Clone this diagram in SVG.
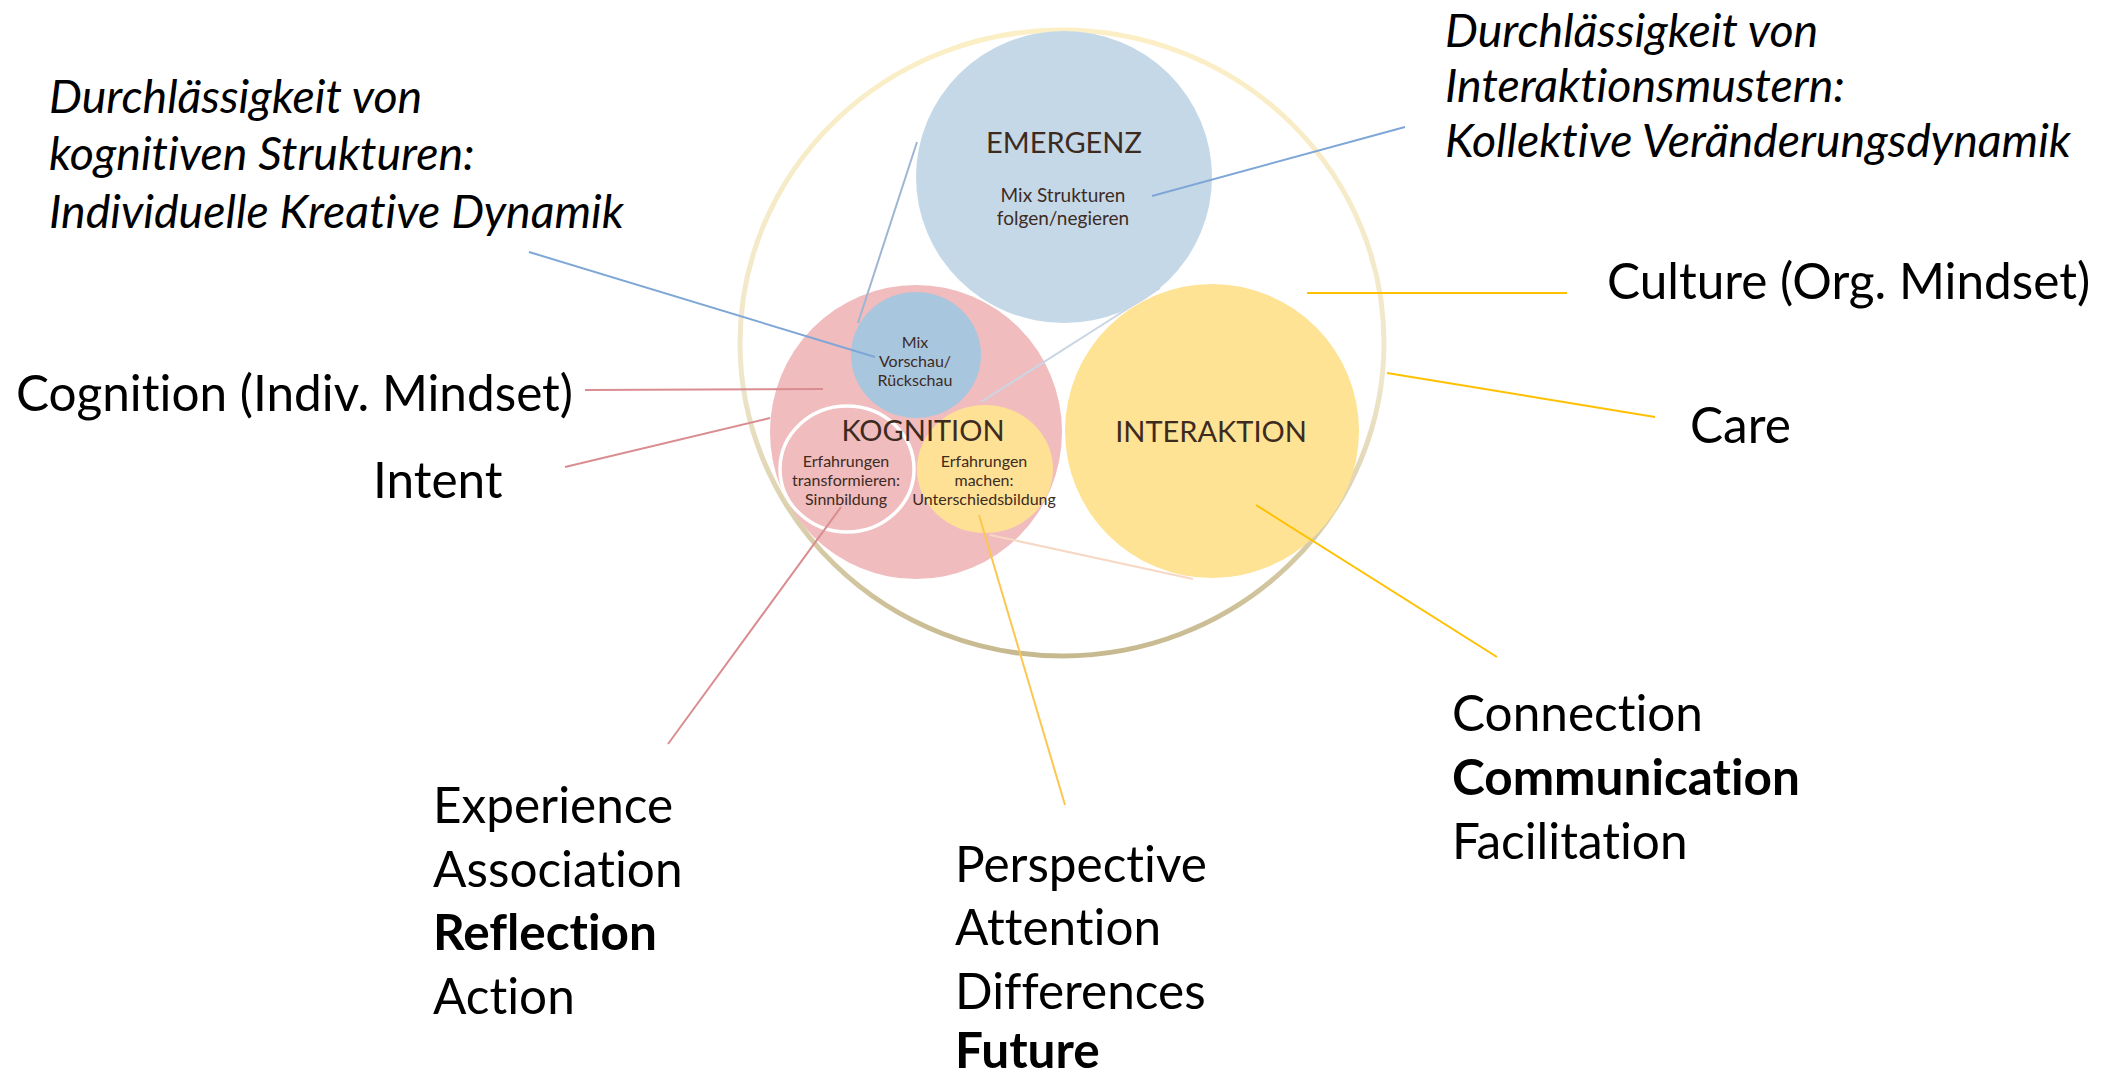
<svg xmlns="http://www.w3.org/2000/svg" width="2114" height="1076" viewBox="0 0 2114 1076">
<defs>
<linearGradient id="ring" x1="0" y1="0" x2="0" y2="1">
<stop offset="0" stop-color="#fcefc6"/>
<stop offset="0.55" stop-color="#efe7cc"/>
<stop offset="1" stop-color="#c7b98f"/>
</linearGradient>
</defs>
<style>
text{font-variant-ligatures:none;font-feature-settings:"liga" 0,"clig" 0}
.in{font-family:Lato,"Liberation Sans",sans-serif;fill:#3d2b1f;text-anchor:middle}
.big{font-size:29px}
.mid{font-size:19px}
.sm{font-size:16px}
.lab{font-family:Lato,"Liberation Sans",sans-serif;font-size:49.5px;fill:#000}
.it{font-family:Lato,"Liberation Sans",sans-serif;font-size:46.5px;font-style:italic;fill:#000}
.b{font-weight:bold}
.c{fill:none;stroke-width:2}
.blue{stroke:#7ea6d6}
.pink{stroke:#d98d90}
.gold{stroke:#ffc000}
</style>
<rect width="2114" height="1076" fill="#fff"/>
<g id="culture-ring">
<ellipse cx="1062" cy="343" rx="322" ry="313" fill="none" stroke="url(#ring)" stroke-width="5"/>
</g>
<g id="emergenz">
<ellipse cx="1064" cy="177" rx="148" ry="146" fill="#c5d8e8"/>
</g>
<g id="kognition">
<ellipse cx="916" cy="432" rx="146" ry="147" fill="#f0bcbe"/>
</g>
<g id="interaktion">
<ellipse cx="1212" cy="431" rx="147" ry="147" fill="#fee395"/>
</g>
<g id="unterschiedsbildung">
<ellipse cx="985" cy="469" rx="68" ry="64" fill="#fee195"/>
</g>
<g id="mix-vorschau">
<ellipse cx="916" cy="355" rx="65" ry="63" fill="#a9c6df"/>
</g>
<g id="sinnbildung">
<ellipse cx="847" cy="469" rx="67" ry="63" fill="#f0bcbe" stroke="#ffffff" stroke-width="3.5"/>
</g>
<g id="connectors">
<line class="c blue" x1="529" y1="252" x2="875" y2="357"/>
<line class="c" stroke="#9fb6d2" stroke-width="1.5" x1="917" y1="142" x2="858" y2="323"/>
<line class="c blue" x1="1152" y1="196" x2="1405" y2="127"/>
<line class="c" stroke="#c9d6e4" stroke-width="3" x1="981" y1="402" x2="1160" y2="288"/>
<line class="c pink" x1="585" y1="390" x2="823" y2="389"/>
<line class="c pink" x1="565" y1="467" x2="770" y2="418"/>
<line class="c pink" x1="841" y1="507" x2="668" y2="744"/>
<line class="c" stroke="#fcc650" x1="979" y1="515" x2="1065" y2="805"/>
<line class="c" stroke="#f6d8c4" stroke-width="3" x1="990" y1="535" x2="1193" y2="579"/>
<line class="c gold" stroke-width="2.5" x1="1307" y1="293" x2="1567" y2="293"/>
<line class="c gold" x1="1387" y1="373" x2="1655" y2="417"/>
<line class="c gold" x1="1256" y1="505" x2="1497" y2="657"/>
</g>
<g id="emergenz-text">
<text class="in big" x="1064" y="153">EMERGENZ</text>
<text class="in mid" x="1063" y="202">Mix Strukturen</text>
<text class="in mid" x="1063" y="225">folgen/negieren</text>
</g>
<g id="mix-text">
<text class="in sm" x="915" y="348">Mix</text>
<text class="in sm" x="915" y="367">Vorschau/</text>
<text class="in sm" x="915" y="386">Rückschau</text>
</g>
<g id="kognition-text">
<text class="in big" x="923" y="441">KOGNITION</text>
</g>
<g id="sinnbildung-text">
<text class="in sm" x="846" y="467">Erfahrungen</text>
<text class="in sm" x="846" y="486">transformieren:</text>
<text class="in sm" x="846" y="505">Sinnbildung</text>
</g>
<g id="unterschied-text">
<text class="in sm" x="984" y="467">Erfahrungen</text>
<text class="in sm" x="984" y="486">machen:</text>
<text class="in sm" x="984" y="505">Unterschiedsbildung</text>
</g>
<g id="interaktion-text">
<text class="in big" x="1211" y="442">INTERAKTION</text>
</g>
<g id="label-individuell">
<text class="it" x="49" y="113">Durchlässigkeit von</text>
<text class="it" x="49" y="170">kognitiven Strukturen:</text>
<text class="it" x="49" y="228">Individuelle Kreative Dynamik</text>
</g>
<g id="label-kollektiv">
<text class="it" x="1445" y="47">Durchlässigkeit von</text>
<text class="it" x="1445" y="102">Interaktionsmustern:</text>
<text class="it" x="1445" y="157">Kollektive Veränderungsdynamik</text>
</g>
<g id="label-cognition"><text class="lab" x="16" y="411">Cognition (Indiv. Mindset)</text></g>
<g id="label-intent"><text class="lab" x="373" y="498">Intent</text></g>
<g id="label-culture"><text class="lab" x="1607" y="299">Culture (Org. Mindset)</text></g>
<g id="label-care"><text class="lab" x="1690" y="443">Care</text></g>
<g id="label-experience">
<text class="lab" x="433" y="823">Experience</text>
<text class="lab" x="433" y="887">Association</text>
<text class="lab b" x="433" y="950">Reflection</text>
<text class="lab" x="433" y="1014">Action</text>
</g>
<g id="label-perspective">
<text class="lab" x="955" y="882">Perspective</text>
<text class="lab" x="955" y="945">Attention</text>
<text class="lab" x="955" y="1009">Differences</text>
<text class="lab b" x="955" y="1068">Future</text>
</g>
<g id="label-connection">
<text class="lab" x="1452" y="731">Connection</text>
<text class="lab b" x="1452" y="795">Communication</text>
<text class="lab" x="1452" y="859">Facilitation</text>
</g>
</svg>
